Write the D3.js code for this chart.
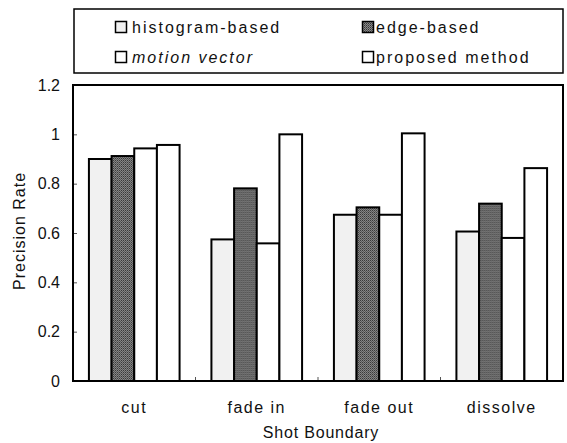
<!DOCTYPE html>
<html>
<head>
<script src="https://cdn.jsdelivr.net/npm/d3@7"></script>
<style>
	body { margin: 0; background: #fff; }
	svg { display: block; }
	text { font-family: "Liberation Sans", Arial, sans-serif; fill: #111; }
</style>
</head>
<body>
<div id="container"></div>
<script>
	// data
	const categories = ["cut", "fade in", "fade out", "dissolve"];
	const methods = ["histogram-based", "edge-based", "motion vector", "proposed method"];
	const histogram = [0.90, 0.574, 0.674, 0.606];
	const edge = [0.912, 0.781, 0.704, 0.719];
	const motion = [0.943, 0.558, 0.674, 0.58];
	const proposed = [0.957, 1.0, 1.004, 0.863];
	const yTicks = [0, 0.2, 0.4, 0.6, 0.8, 1, 1.2];

	const series = [histogram, edge, motion, proposed];
	const fills = ["#f1f1f1", "url(#halftone)", "#ffffff", "#ffffff"];

	const width = 567, height = 443;
	const margin = {top: 85, right: 4, bottom: 62, left: 73};

	var svg = d3.select("#container").append("svg").attr("width", width).attr("height", height);

	// dotted dark fill like the printed halftone
	var pat = svg.append("defs").append("pattern").attr("id", "halftone")
		.attr("patternUnits", "userSpaceOnUse").attr("width", 2).attr("height", 2);
	pat.append("rect").attr("width", 2).attr("height", 2).attr("fill", "#8a8a8a");
	pat.append("rect").attr("width", 1).attr("height", 1).attr("fill", "#333");
	pat.append("rect").attr("x", 1).attr("y", 1).attr("width", 1).attr("height", 1).attr("fill", "#555");

	var x0 = d3.scaleBand().domain(categories)
		.range([margin.left, width - margin.right])
		.paddingInner(0.26).paddingOuter(0.13);
	var x1 = d3.scaleBand().domain(methods).range([0, x0.bandwidth()]);
	var y = d3.scaleLinear().domain([0, 1.2]).range([height - margin.bottom, margin.top]);

	/***** axes *****/
	var yAxis = d3.axisLeft(y).tickValues(yTicks).tickSize(-4).tickPadding(13)
		.tickFormat(d => d == 0 || d == 1 ? d : d3.format(".1f")(d));
	var gy = svg.append("g").attr("transform", "translate(" + margin.left + ",0)").call(yAxis);
	gy.select(".domain").remove();
	gy.selectAll("line").attr("stroke", "#555");
	gy.selectAll("text").attr("font-size", 16).attr("fill", "#111");

	var gx = svg.append("g");
	gx.selectAll("text").data(categories).enter().append("text")
		.attr("x", d => x0(d) + x0.bandwidth() / 2)
		.attr("y", 413)
		.attr("text-anchor", "middle")
		.attr("font-size", 16).attr("letter-spacing", 1.5)
		.text(d => d);

	// small ticks between the groups
	gx.selectAll("line").data(categories.slice(1)).enter().append("line")
		.attr("x1", d => x0(d) - x0.step() * x0.paddingInner() / 2)
		.attr("x2", d => x0(d) - x0.step() * x0.paddingInner() / 2)
		.attr("y1", y(0)).attr("y2", y(0) - 4)
		.attr("stroke", "#555");

	svg.append("text").attr("x", 321).attr("y", 438)
		.attr("text-anchor", "middle").attr("font-size", 16).attr("letter-spacing", 0.8)
		.text("Shot Boundary");

	svg.append("text").attr("transform", "translate(25,231) rotate(-90)")
		.attr("text-anchor", "middle").attr("font-size", 16).attr("letter-spacing", 1)
		.text("Precision Rate");

	/***** bars *****/
	var groups = svg.append("g").selectAll("g").data(categories).enter().append("g")
		.attr("transform", d => "translate(" + x0(d) + ",0)");

	groups.selectAll("rect")
		.data((c, i) => series.map((s, j) => ({m: methods[j], v: s[i], j: j})))
		.enter().append("rect")
		.attr("x", d => x1(d.m))
		.attr("width", x1.bandwidth())
		.attr("y", d => y(d.v))
		.attr("height", d => y(0) - y(d.v))
		.attr("fill", d => fills[d.j])
		.attr("stroke", "#000").attr("stroke-width", 2);

	// plot frame
	svg.append("rect").attr("x", margin.left).attr("y", margin.top)
		.attr("width", width - margin.left - margin.right).attr("height", y(0) - margin.top)
		.attr("fill", "none").attr("stroke", "#000").attr("stroke-width", 2);

	/***** legend *****/
	var legend = svg.append("g");
	legend.append("rect").attr("x", 74).attr("y", 9).attr("width", 489).attr("height", 64)
		.attr("fill", "#fff").attr("stroke", "#000").attr("stroke-width", 1.5);

	var legendPos = [[115, 27], [362, 27], [115, 57], [362, 57]];
	var items = legend.selectAll("g.item").data(methods).enter().append("g")
		.attr("class", "item")
		.attr("transform", (d, i) => "translate(" + legendPos[i][0] + "," + legendPos[i][1] + ")");
	items.append("rect").attr("x", 0.5).attr("y", -5.5).attr("width", 11).attr("height", 11)
		.attr("fill", (d, i) => fills[i]).attr("stroke", "#000").attr("stroke-width", 1.5);
	items.append("text").attr("x", (d, i) => i % 2 ? 14 : 17).attr("y", 5.5)
		.attr("font-size", 16).attr("letter-spacing", 2)
		.attr("font-style", d => d == "motion vector" ? "italic" : "normal")
		.text(d => d);
</script>
</body>
</html>
